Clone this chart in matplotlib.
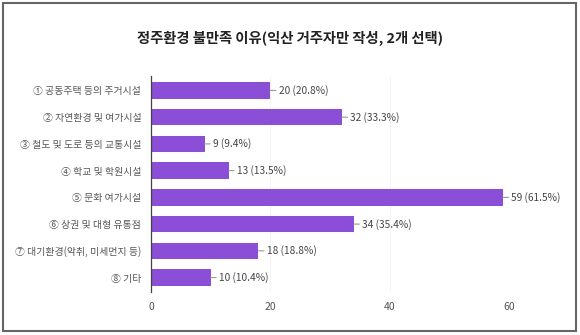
import matplotlib
matplotlib.use('Agg')
import matplotlib.pyplot as plt
from matplotlib.patches import Rectangle

plt.rcParams['font.family'] = ['Noto Sans CJK KR', 'DejaVu Sans']

categories = ['① 공동주택 등의 주거시설', '② 자연환경 및 여가시설', '③ 철도 및 도로 등의 교통시설',
              '④ 학교 및 학원시설', '⑤ 문화 여가시설', '⑥ 상권 및 대형 유통점',
              '⑦ 대기환경(악취, 미세먼지 등)', '⑧ 기타']
counts = [20, 32, 9, 13, 59, 34, 18, 10]
percents = [20.8, 33.3, 9.4, 13.5, 61.5, 35.4, 18.8, 10.4]
xticks = [0, 20, 40, 60]
title = '정주환경 불만족 이유(익산 거주자만 작성, 2개 선택)'

bar_color = '#8a4fd6'
text_gray = '#555555'

fig = plt.figure(figsize=(5.8, 3.35), dpi=100)
ax = fig.add_axes([0.2603, 0.1284, 0.6173, 0.6447])

pos = list(range(len(categories)))
ax.barh(pos, counts, height=0.61, color=bar_color)

for i, (c, p) in enumerate(zip(counts, percents)):
    ax.annotate('%d (%.1f%%)' % (c, p), xy=(c, i), xytext=(6, 0), textcoords='offset points',
                va='center', ha='left', fontsize=7.3, color='#444444',
                arrowprops=dict(arrowstyle='-', color='#999999', lw=0.8, shrinkA=0, shrinkB=0))

ax.set_xlim(0, 60)
ax.set_ylim(7.54, -0.54)
ax.set_xticks(xticks)
ax.set_yticks(pos)
ax.set_yticklabels(categories)
ax.tick_params(axis='y', length=0, pad=7, labelsize=7.1, labelcolor=text_gray)
ax.tick_params(axis='x', length=0, pad=7, labelsize=7.5, labelcolor=text_gray)
ax.grid(axis='x', color='#f4f4f4', lw=0.8)
ax.set_axisbelow(True)
for s in ['top', 'right', 'bottom']:
    ax.spines[s].set_visible(False)
ax.spines['left'].set_color('#444444')
ax.spines['left'].set_linewidth(0.9)

fig.text(0.5, 0.885, title, ha='center', va='center', fontsize=10.3, fontweight='bold', color='#222222')

fig.patches.append(Rectangle((3 / 580, 4 / 335), 573 / 580, 328 / 335, transform=fig.transFigure,
                             fill=False, edgecolor='#666666', lw=1.5))

fig.savefig('out.png', dpi=100)
